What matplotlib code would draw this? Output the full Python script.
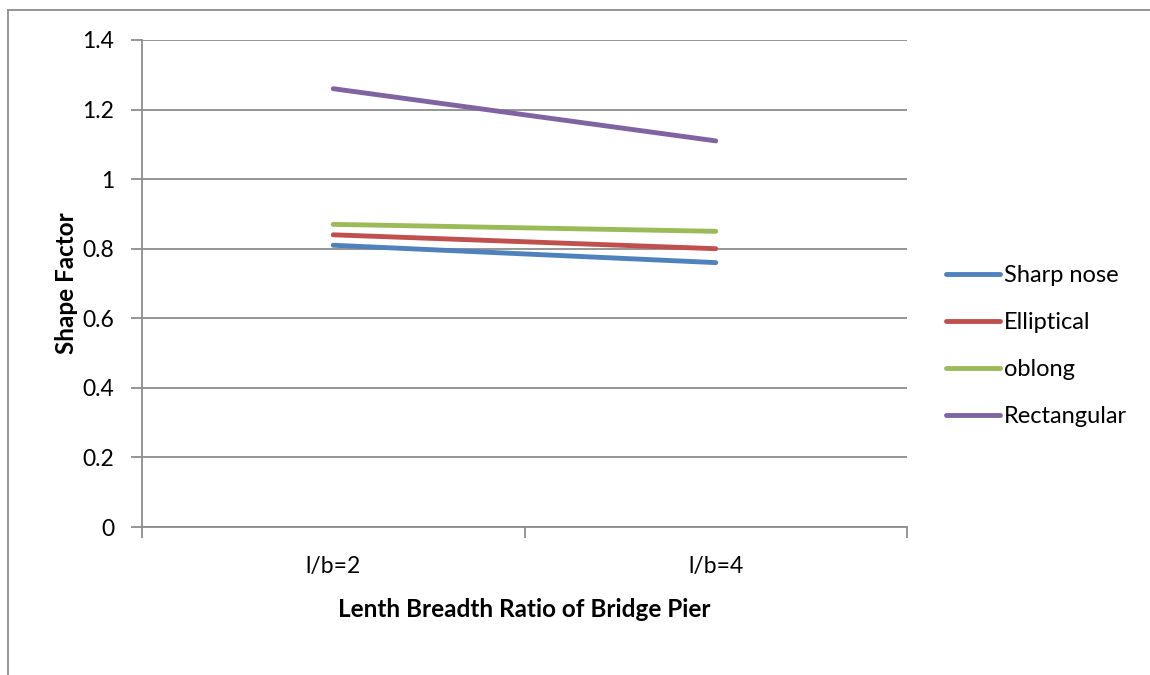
import matplotlib.pyplot as plt
from matplotlib.lines import Line2D

categories = ['l/b=2', 'l/b=4']
sharp_nose = [0.81, 0.76]
elliptical = [0.84, 0.80]
oblong = [0.87, 0.85]
rectangular = [1.26, 1.11]

series = [('Sharp nose', sharp_nose, '#4F81BD'),
          ('Elliptical', elliptical, '#C0504D'),
          ('oblong', oblong, '#9BBB59'),
          ('Rectangular', rectangular, '#8064A2')]

plt.rcParams['font.family'] = ['Lato', 'DejaVu Sans']

fig = plt.figure(figsize=(11.5, 6.75), dpi=100)
ax = fig.add_axes([142 / 1150, 1 - 527 / 675, 765 / 1150, 487 / 675])

xpos = [i + 0.5 for i in range(len(categories))]
for name, vals, col in series:
    ax.plot(xpos, vals, color=col, lw=3.5, solid_capstyle='round', label=name)

grid_col = '#8C8C8C'
ax.set_xlim(0, len(categories))
ax.set_ylim(0, 1.4)
ax.set_yticks([0, 0.2, 0.4, 0.6, 0.8, 1, 1.2, 1.4])
ax.set_yticklabels(['0', '0.2', '0.4', '0.6', '0.8', '1', '1.2', '1.4'])
ax.yaxis.grid(True, color=grid_col, lw=1.3)
ax.set_axisbelow(True)

ax.set_xticks(range(len(categories) + 1))
ax.set_xticklabels([])
ax.set_xticks(xpos, minor=True)
ax.set_xticklabels(categories, minor=True)
ax.tick_params(axis='x', which='minor', length=0, pad=21, labelsize=16.5)
ax.tick_params(axis='x', which='major', length=8, width=1.3, color=grid_col)
ax.tick_params(axis='y', length=8, width=1.3, color=grid_col, pad=12, labelsize=16.5)

for s in ['top', 'right']:
    ax.spines[s].set_visible(False)
for s in ['left', 'bottom']:
    ax.spines[s].set_color(grid_col)
    ax.spines[s].set_linewidth(1.3)

ax.set_xlabel('Lenth Breadth Ratio of Bridge Pier', fontweight='bold', fontsize=17.5, labelpad=15)
ax.set_ylabel('Shape Factor', fontweight='bold', fontsize=17.5, labelpad=3)

ax.legend(loc='center left', bbox_to_anchor=(1.023, 0.372), frameon=False,
          fontsize=17, handlelength=2.3, handletextpad=0.15, labelspacing=1.1)

# chart frame (left and top edges visible)
fig.add_artist(Line2D([8 / 1150, 8 / 1150], [0, 1 - 10 / 675], color='#8C8C8C', lw=1.3))
fig.add_artist(Line2D([8 / 1150, 1], [1 - 10 / 675, 1 - 10 / 675], color='#8C8C8C', lw=1.3))

fig.savefig('out.png', dpi=100)
